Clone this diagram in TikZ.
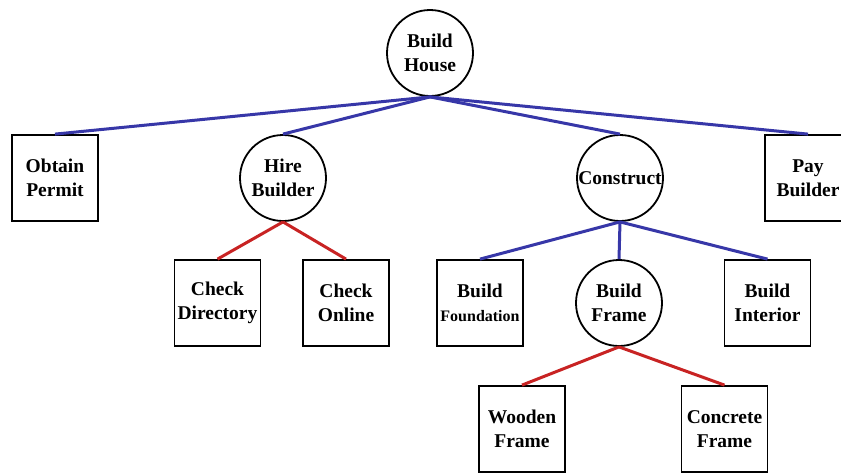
\documentclass[tikz,border=0pt]{standalone}
\usepackage{fontspec}
\setmainfont{Liberation Serif}
\usepackage{xcolor}
\definecolor{treeblue}{RGB}{55,55,168}
\definecolor{treered}{RGB}{200,35,35}

\begin{document}
\begin{tikzpicture}[x=1pt, y=1pt, node distance=125pt,
    task/.style={draw, line width=1.8pt, rectangle, minimum width=86pt, minimum height=86pt, inner sep=0pt, align=center, font=\fontsize{19.5}{24}\selectfont\bfseries},
    group/.style={task, circle, minimum size=86pt},
    blueline/.style={treeblue, line width=3pt},
    redline/.style={treered, line width=3pt}]
    \useasboundingbox (0,0) rectangle (841,-472);
    % Work breakdown tree
    \node[group] (house) at (430,-53) {Build\\House};
    \node[task, below of=house, xshift=-375pt] (permit) {Obtain\\Permit};
    \node[group, below of=house, xshift=-147pt] (hire) {Hire\\Builder};
    \node[group, below of=house, xshift=190pt] (construct) {Construct};
    \node[task, below of=house, xshift=378pt] (pay) {Pay\\Builder};
    \node[task, below of=hire, xshift=-65.5pt] (directory) {Check\\Directory};
    \node[task, below of=hire, xshift=63pt] (online) {Check\\Online};
    \node[task, below of=construct, xshift=-140pt] (foundation) {Build\\{\fontsize{16}{20}\selectfont Foundation}};
    \node[group, below of=construct, xshift=-1pt] (bframe) {Build\\Frame};
    \node[task, below of=construct, xshift=147.5pt] (interior) {Build\\Interior};
    \node[task, below of=bframe, yshift=-1pt, xshift=-97pt] (wooden) {Wooden\\Frame};
    \node[task, below of=bframe, yshift=-1pt, xshift=105.5pt] (concrete) {Concrete\\Frame};

    \draw[blueline] (house.south) -- (permit.north);
    \draw[blueline] (house.south) -- (hire.north);
    \draw[blueline] (house.south) -- (construct.north);
    \draw[blueline] (house.south) -- (pay.north);
    \draw[redline] (hire.south) -- (directory.north);
    \draw[redline] (hire.south) -- (online.north);
    \draw[blueline] (construct.south) -- (foundation.north);
    \draw[blueline] (construct.south) -- (bframe.north);
    \draw[blueline] (construct.south) -- (interior.north);
    \draw[redline] (bframe.south) -- (wooden.north);
    \draw[redline] (bframe.south) -- (concrete.north);
\end{tikzpicture}
\end{document}
